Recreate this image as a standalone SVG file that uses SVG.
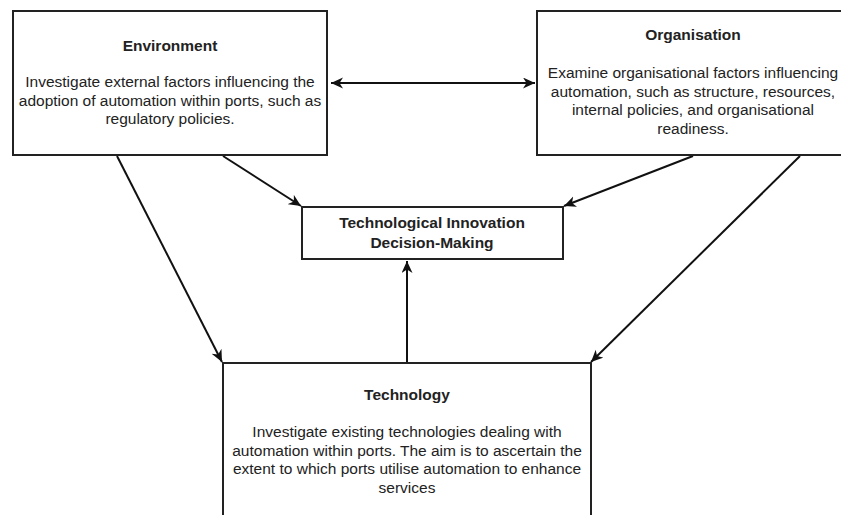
<svg xmlns="http://www.w3.org/2000/svg" width="841" height="515" viewBox="0 0 841 515">
<style>
.box{fill:#fff;stroke:#222;stroke-width:2}
.t{font-family:"Liberation Sans",Arial,sans-serif;font-size:15.5px;fill:#222;text-anchor:middle}
.b{font-weight:bold}
.c{fill:none;stroke:#111;stroke-width:2}
</style>
<defs>
<marker id="ah" markerUnits="userSpaceOnUse" markerWidth="14" markerHeight="12" refX="12" refY="5.5" orient="auto-start-reverse" viewBox="0 0 14 12">
<path d="M0,0 L12,5.5 L0,11 L3.5,5.5 Z" fill="#111"/>
</marker>
</defs>
<rect width="841" height="515" fill="#fff"/>
<g id="connectors">
<line class="c" x1="331" y1="83" x2="535" y2="83" marker-start="url(#ah)" marker-end="url(#ah)"/>
<line class="c" x1="223" y1="156" x2="301" y2="206" marker-end="url(#ah)"/>
<line class="c" x1="117" y1="156" x2="222" y2="362" marker-end="url(#ah)"/>
<line class="c" x1="693" y1="156" x2="564" y2="206" marker-end="url(#ah)"/>
<line class="c" x1="800" y1="156" x2="591" y2="362" marker-end="url(#ah)"/>
<line class="c" x1="407" y1="362" x2="407" y2="261" marker-end="url(#ah)"/>
</g>
<g id="environment">
<rect class="box" x="13" y="11" width="314" height="144"/>
<text class="t b" x="170" y="51">Environment</text>
<text class="t" x="170" y="87">Investigate external factors influencing the</text>
<text class="t" x="170" y="106">adoption of automation within ports, such as</text>
<text class="t" x="170" y="124">regulatory policies.</text>
</g>
<g id="organisation">
<rect class="box" x="537" y="11" width="312" height="144"/>
<text class="t b" x="693" y="40">Organisation</text>
<text class="t" x="693" y="78">Examine organisational factors influencing</text>
<text class="t" x="693" y="97">automation, such as structure, resources,</text>
<text class="t" x="693" y="115">internal policies, and organisational</text>
<text class="t" x="693" y="134">readiness.</text>
</g>
<g id="decision">
<rect class="box" x="302" y="207" width="261" height="52"/>
<text class="t b" x="432" y="228">Technological Innovation</text>
<text class="t b" x="432" y="248">Decision-Making</text>
</g>
<g id="technology">
<rect class="box" x="223" y="363" width="368" height="200"/>
<text class="t b" x="407" y="400">Technology</text>
<text class="t" x="407" y="437">Investigate existing technologies dealing with</text>
<text class="t" x="407" y="456">automation within ports. The aim is to ascertain the</text>
<text class="t" x="407" y="474">extent to which ports utilise automation to enhance</text>
<text class="t" x="407" y="493">services</text>
</g>
</svg>
